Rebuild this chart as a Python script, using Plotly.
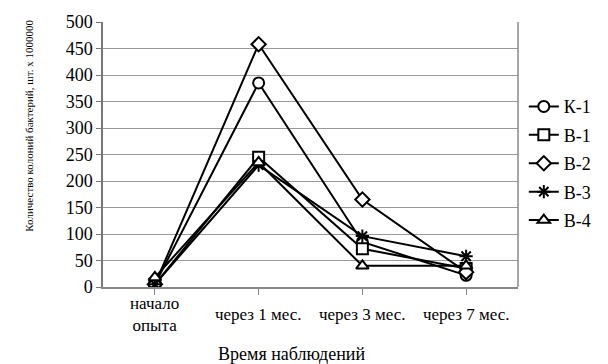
import plotly.graph_objects as go

# Observation periods (x categories)
periods = ["начало<br>опыта", "через 1 мес.", "через 3 мес.", "через 7 мес."]

# Bacterial colony counts, pcs x 1000000
k1 = [5, 385, 85, 22]
b1 = [5, 245, 72, 35]
b2 = [5, 458, 165, 28]
b3 = [5, 230, 96, 58]
b4 = [18, 235, 40, 40]

series_names = ["К-1", "В-1", "В-2", "В-3", "В-4"]
series_values = [k1, b1, b2, b3, b4]
symbols = ["circle", "square", "diamond", "asterisk", "triangle-up"]
fills = ["white", "white", "white", "black", "white"]
sizes = [11, 11, 11, 11, 11]

FONT = "Liberation Serif, Times New Roman, serif"
x_pos = list(range(len(periods)))

fig = go.Figure()
for name, vals, sym, fc, sz in zip(series_names, series_values, symbols, fills, sizes):
    fig.add_trace(go.Scatter(
        x=x_pos, y=vals, name=name, legendgroup=name, mode="lines+markers",
        line=dict(color="black", width=2),
        marker=dict(symbol=sym, size=sz, color=fc,
                    line=dict(color="black", width=2)),
    ))

# Category labels, vertically centred under each category
annotations = []
for i, lab in enumerate(periods):
    annotations.append(dict(
        x=i, xref="x", y=0, yref="paper", yanchor="middle", yshift=-27,
        text=lab, showarrow=False, font=dict(family=FONT, size=17, color="black"),
    ))

annotations.append(dict(
    x=0.454, xref="paper", y=0, yref="paper", yanchor="middle", yshift=-67,
    text="Время наблюдений", showarrow=False,
    font=dict(family=FONT, size=18, color="black"),
))
annotations.append(dict(
    x=-0.177, xref="paper", y=0.607, yref="paper", xanchor="center", yanchor="middle",
    text="Количество колоний бактерий, шт. х 1000000", textangle=-90, showarrow=False,
    font=dict(family=FONT, size=11, color="black"),
))

fig.update_layout(
    width=608, height=364,
    margin=dict(l=103, r=82, t=20, b=77),
    paper_bgcolor="white", plot_bgcolor="white",
    font=dict(family=FONT, color="black"),
    showlegend=True,
    legend=dict(x=1.014, y=0.75, xanchor="left", yanchor="top",
                font=dict(family=FONT, size=18, color="black"),
                tracegroupgap=2, itemwidth=30, bgcolor="rgba(0,0,0,0)"),
    annotations=annotations,
    xaxis=dict(
        range=[-0.5, 3.5], tickvals=x_pos, ticktext=[""] * len(periods),
        showgrid=False, zeroline=False,
        showline=True, linecolor="#888", linewidth=1.5, mirror=False,
        ticks="outside", ticklen=6, tickcolor="#888",
        tickson="boundaries", type="linear",
    ),
    yaxis=dict(
        range=[0, 500], dtick=50,
        showgrid=True, gridcolor="#999", gridwidth=1,
        zeroline=False,
        showline=True, linecolor="#777", linewidth=1.5,
        ticks="outside", ticklen=5, tickcolor="#777",
        tickfont=dict(family=FONT, size=18, color="black"),
    ),
)

# Right-hand frame edge of the plot area
fig.add_shape(type="line", xref="paper", yref="paper", x0=1, x1=1, y0=0, y1=1,
              line=dict(color="#888", width=1.5))

fig.write_html("out.html")
